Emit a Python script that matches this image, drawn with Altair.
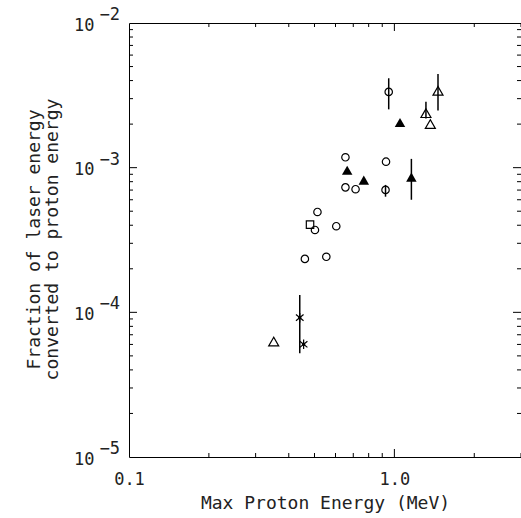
import altair as alt
import pandas as pd

# ---------------- data ----------------
circ_x = [0.46, 0.554, 0.502, 0.513, 0.604, 0.654, 0.654, 0.714, 0.93, 0.926, 0.952]
circ_y = [2.34e-4, 2.42e-4, 3.71e-4, 4.94e-4, 3.94e-4, 1.18e-3, 7.31e-4, 7.10e-4, 1.10e-3, 7.02e-4, 3.34e-3]

ftri_x = [0.664, 0.767, 1.05, 1.159]
ftri_y = [9.6e-4, 8.2e-4, 2.05e-3, 8.6e-4]

otri_x = [0.351, 1.315, 1.366, 1.46]
otri_y = [6.28e-5, 2.38e-3, 2.00e-3, 3.40e-3]

sq_x = [0.481]
sq_y = [4.04e-4]

ast_x = [0.44, 0.455]
ast_y = [9.19e-5, 6.01e-5]

err_x = [0.44, 0.952, 0.926, 1.159, 1.315, 1.46]
err_lo = [5.21e-5, 2.53e-3, 6.3e-4, 6.0e-4, 2.19e-3, 2.48e-3]
err_hi = [1.32e-4, 4.15e-3, 7.6e-4, 1.15e-3, 2.86e-3, 4.44e-3]

x_label_vals = [0.1, 1.0]
y_label_vals = [1e-5, 1e-4, 1e-3, 1e-2]
y_label_base = "10"
y_label_sup = ["−5", "−4", "−3", "−2"]
x_minor = [0.2, 0.3, 0.4, 0.5, 0.6, 0.7, 0.8, 0.9, 2.0, 3.0]
x_major = [1.0]
y_minor = [2e-5, 3e-5, 4e-5, 5e-5, 6e-5, 7e-5, 8e-5, 9e-5,
           2e-4, 3e-4, 4e-4, 5e-4, 6e-4, 7e-4, 8e-4, 9e-4,
           2e-3, 3e-3, 4e-3, 5e-3, 6e-3, 7e-3, 8e-3, 9e-3]
y_major = [1e-4, 1e-3]

W, H = 392, 434
FONT = "DejaVu Sans Mono"
INK = "#222222"

xscale = alt.Scale(type="log", domain=[0.1, 3.0], nice=False)
yscale = alt.Scale(type="log", domain=[1e-5, 1e-2], nice=False)

x_axis = alt.Axis(
    values=x_label_vals, format=".1f", tickSize=0, domain=False, grid=False,
    labelPadding=14, labelFlush=False,
    title="Max Proton Energy (MeV)", titleY=51, titleBaseline="alphabetic",
)
y_axis = alt.Axis(
    values=y_label_vals, tickSize=0, domain=False, grid=False,
    labelPadding=35, labelFlush=False, labelOffset=2,
    labelExpr=f"'{y_label_base}'",
    title=["Fraction of laser energy", "converted to proton energy"],
    titleX=-90, titleY=216, titleBaseline="alphabetic", titleAlign="center",
    titleLineHeight=18, titleAngle=-90,
)

def X(field="x"):
    return alt.X(f"{field}:Q", scale=xscale, axis=x_axis)

def Y(field="y"):
    return alt.Y(f"{field}:Q", scale=yscale, axis=y_axis)

def df(xs, ys):
    return pd.DataFrame({"x": xs, "y": ys})

layers = []

# inward ticks on all four sides
def xticks(vals, length):
    d = pd.DataFrame({"x": vals})
    bottom = alt.Chart(d).mark_rule(color="black", strokeWidth=1).encode(
        x=X(), y=alt.value(H), y2=alt.value(H - length))
    top = alt.Chart(d).mark_rule(color="black", strokeWidth=1).encode(
        x=X(), y=alt.value(0), y2=alt.value(length))
    return [bottom, top]

def yticks(vals, length):
    d = pd.DataFrame({"y": vals})
    left = alt.Chart(d).mark_rule(color="black", strokeWidth=1).encode(
        y=Y(), x=alt.value(0), x2=alt.value(length))
    right = alt.Chart(d).mark_rule(color="black", strokeWidth=1).encode(
        y=Y(), x=alt.value(W), x2=alt.value(W - length))
    return [left, right]

layers += xticks(x_minor, 4) + xticks(x_major, 8)
layers += yticks(y_minor, 4) + yticks(y_major, 8)

# superscript exponents of the y tick labels
sup_df = pd.DataFrame({"y": y_label_vals, "sup": y_label_sup})
layers.append(
    alt.Chart(sup_df).mark_text(
        align="right", baseline="middle", dx=-9, dy=-8,
        font=FONT, fontSize=17, color=INK,
    ).encode(y=Y(), x=alt.value(0), text="sup:N")
)

# error bars
err = pd.DataFrame({"x": err_x, "lo": err_lo, "hi": err_hi})
layers.append(
    alt.Chart(err).mark_rule(color="black", strokeWidth=1.5).encode(
        x=X(), y=Y("lo"), y2="hi:Q")
)

# markers
layers.append(alt.Chart(df(circ_x, circ_y)).mark_point(
    shape="circle", filled=False, color="black", strokeWidth=1.2, size=55, opacity=1
).encode(x=X(), y=Y()))
layers.append(alt.Chart(df(ftri_x, ftri_y)).mark_point(
    shape="triangle-up", filled=True, color="black", size=110, opacity=1
).encode(x=X(), y=Y()))
layers.append(alt.Chart(df(otri_x, otri_y)).mark_point(
    shape="triangle-up", filled=False, color="black", strokeWidth=1.2, size=100, opacity=1
).encode(x=X(), y=Y()))
layers.append(alt.Chart(df(sq_x, sq_y)).mark_point(
    shape="square", filled=False, color="black", strokeWidth=1.2, size=55, opacity=1
).encode(x=X(), y=Y()))
layers.append(alt.Chart(df(ast_x, ast_y)).mark_point(
    shape="M0,-1L0,1M-0.8,-0.65L0.8,0.65M-0.8,0.65L0.8,-0.65",
    filled=False, color="black", strokeWidth=1.2, size=90, opacity=1
).encode(x=X(), y=Y()))
layers.append(alt.Chart(df(ast_x, ast_y)).mark_point(
    shape="circle", filled=True, color="black", size=12, opacity=1
).encode(x=X(), y=Y()))

chart = alt.layer(*layers).properties(
    width=W, height=H,
    autosize=alt.AutoSizeParams(type="none"),
    padding={"left": 129, "top": 23, "right": 0, "bottom": 61},
    background="white",
).configure_view(
    stroke="black", strokeWidth=1
).configure_axis(
    labelFont=FONT, labelFontSize=17, labelColor=INK, labelFontWeight="normal",
    titleFont=FONT, titleFontSize=18, titleColor=INK, titleFontWeight="normal",
)

chart.save("out.html", embed_options={"renderer": "svg", "actions": False})
